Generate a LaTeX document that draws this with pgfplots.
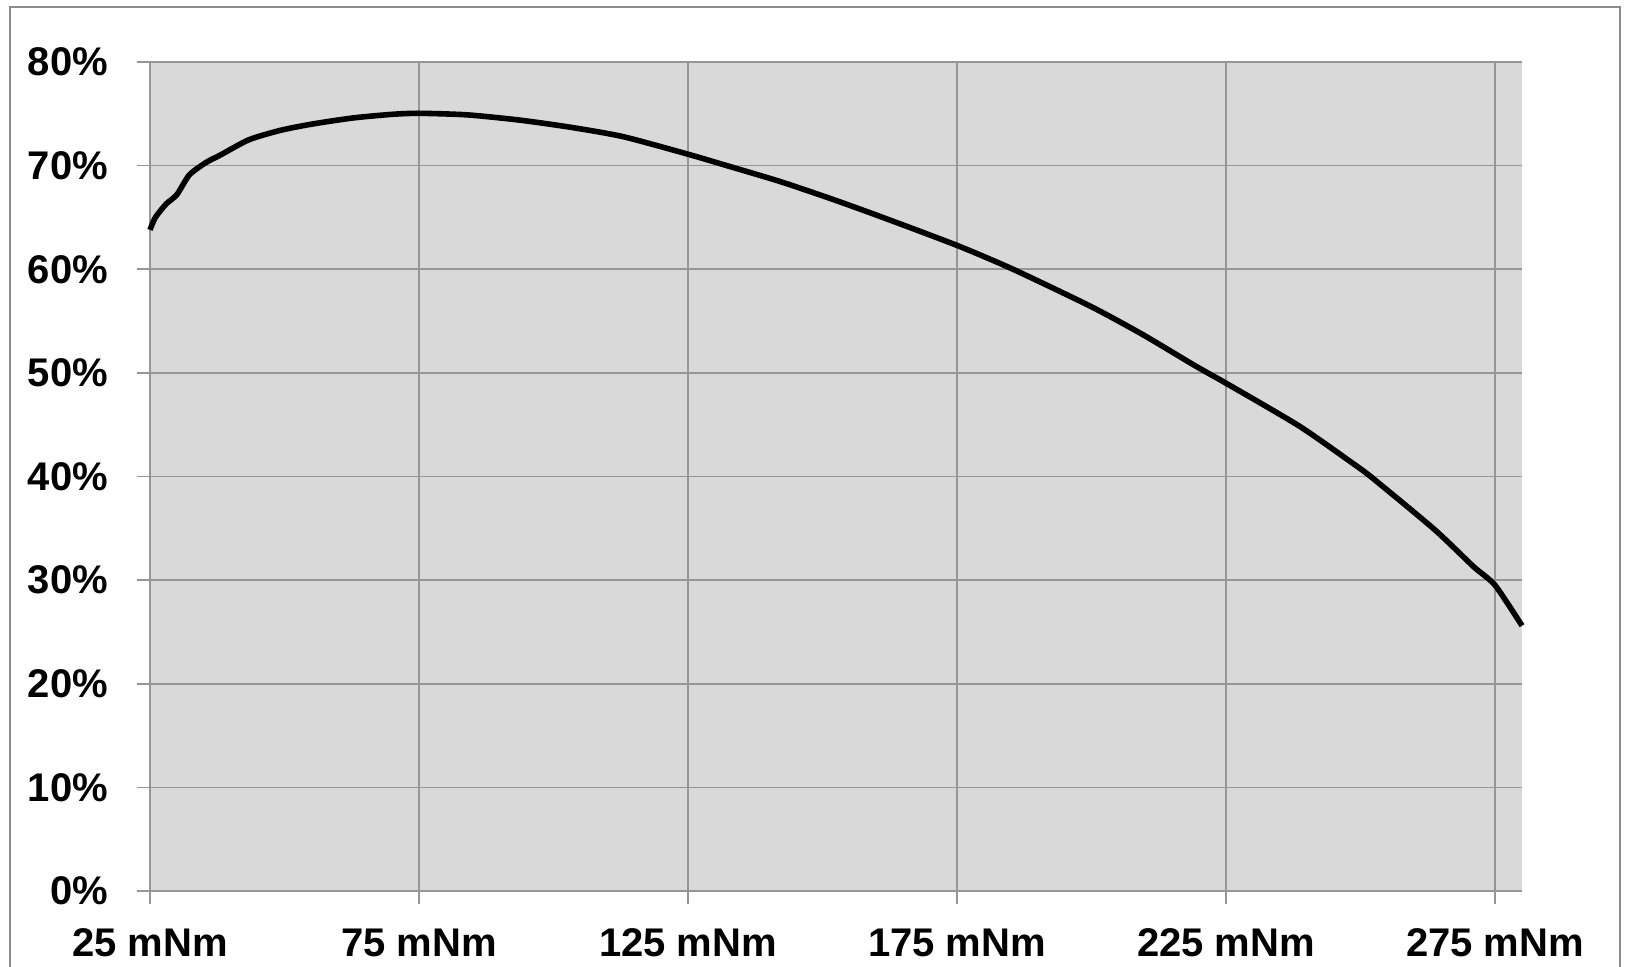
\documentclass[border=0pt]{standalone}
\usepackage{pgfplots}
\pgfplotsset{compat=1.18}
\usepackage{fontspec}
\setmainfont{Liberation Sans}
\definecolor{plotbg}{HTML}{D9D9D9}
\definecolor{gridc}{HTML}{969696}
\definecolor{framec}{HTML}{8C8C8C}
\begin{document}
\begin{tikzpicture}
\useasboundingbox (0,0) rectangle (813.5pt,483.5pt);
\draw[framec,line width=1pt] (5pt,-2pt) -- (5pt,480pt) -- (810pt,480pt) -- (810pt,-2pt);
\begin{axis}[
  at={(75pt,38pt)}, anchor=south west,
  scale only axis, width=686pt, height=414.5pt,
  xmin=25, xmax=280, ymin=0, ymax=80,
  axis background/.style={fill=plotbg},
  axis x line=bottom, axis y line=left,
  axis line style={gridc, line width=0.8pt, -},
  xtick={25,75,125,175,225,275},
  xticklabels={25 mNm,75 mNm,125 mNm,175 mNm,225 mNm,275 mNm},
  ytick={0,10,20,30,40,50,60,70,80},
  yticklabels={0\%,10\%,20\%,30\%,40\%,50\%,60\%,70\%,80\%},
  grid=major,
  major grid style={gridc, line width=0.8pt},
  tick align=outside,
  major tick length=6.5pt,
  tick style={gridc, line width=0.8pt},
  ticklabel style={font=\fontsize{20}{22}\selectfont\bfseries, text=black},
  yticklabel style={xshift=-11pt},
  xticklabel style={yshift=-9pt},
  clip=false,
]
\addplot[black, line width=2.8pt, smooth, tension=0.4] coordinates {
(25,63.8) (26,65.0) (28.0,66.3) (30,67.2) (32.3,69.1) (35.4,70.3) (38,71.0) (43.4,72.5)
(49.2,73.4) (55.0,74.0) (62.7,74.6) (70,74.95) (75,75.05) (83.9,74.9) (93.6,74.4)
(103.2,73.7) (112.9,72.8) (125,71.1) (132.2,70.0) (141.9,68.5) (151.6,66.8)
(161.2,65.0) (175,62.3) (185.4,60.0) (199.9,56.4) (209.5,53.7) (219.2,50.7)
(225,49.0) (238.5,44.9) (248.2,41.4) (252.1,39.9) (263.7,34.9) (271,31.3) (275,29.5) (280,25.6)
};
\end{axis}
\end{tikzpicture}
\end{document}
